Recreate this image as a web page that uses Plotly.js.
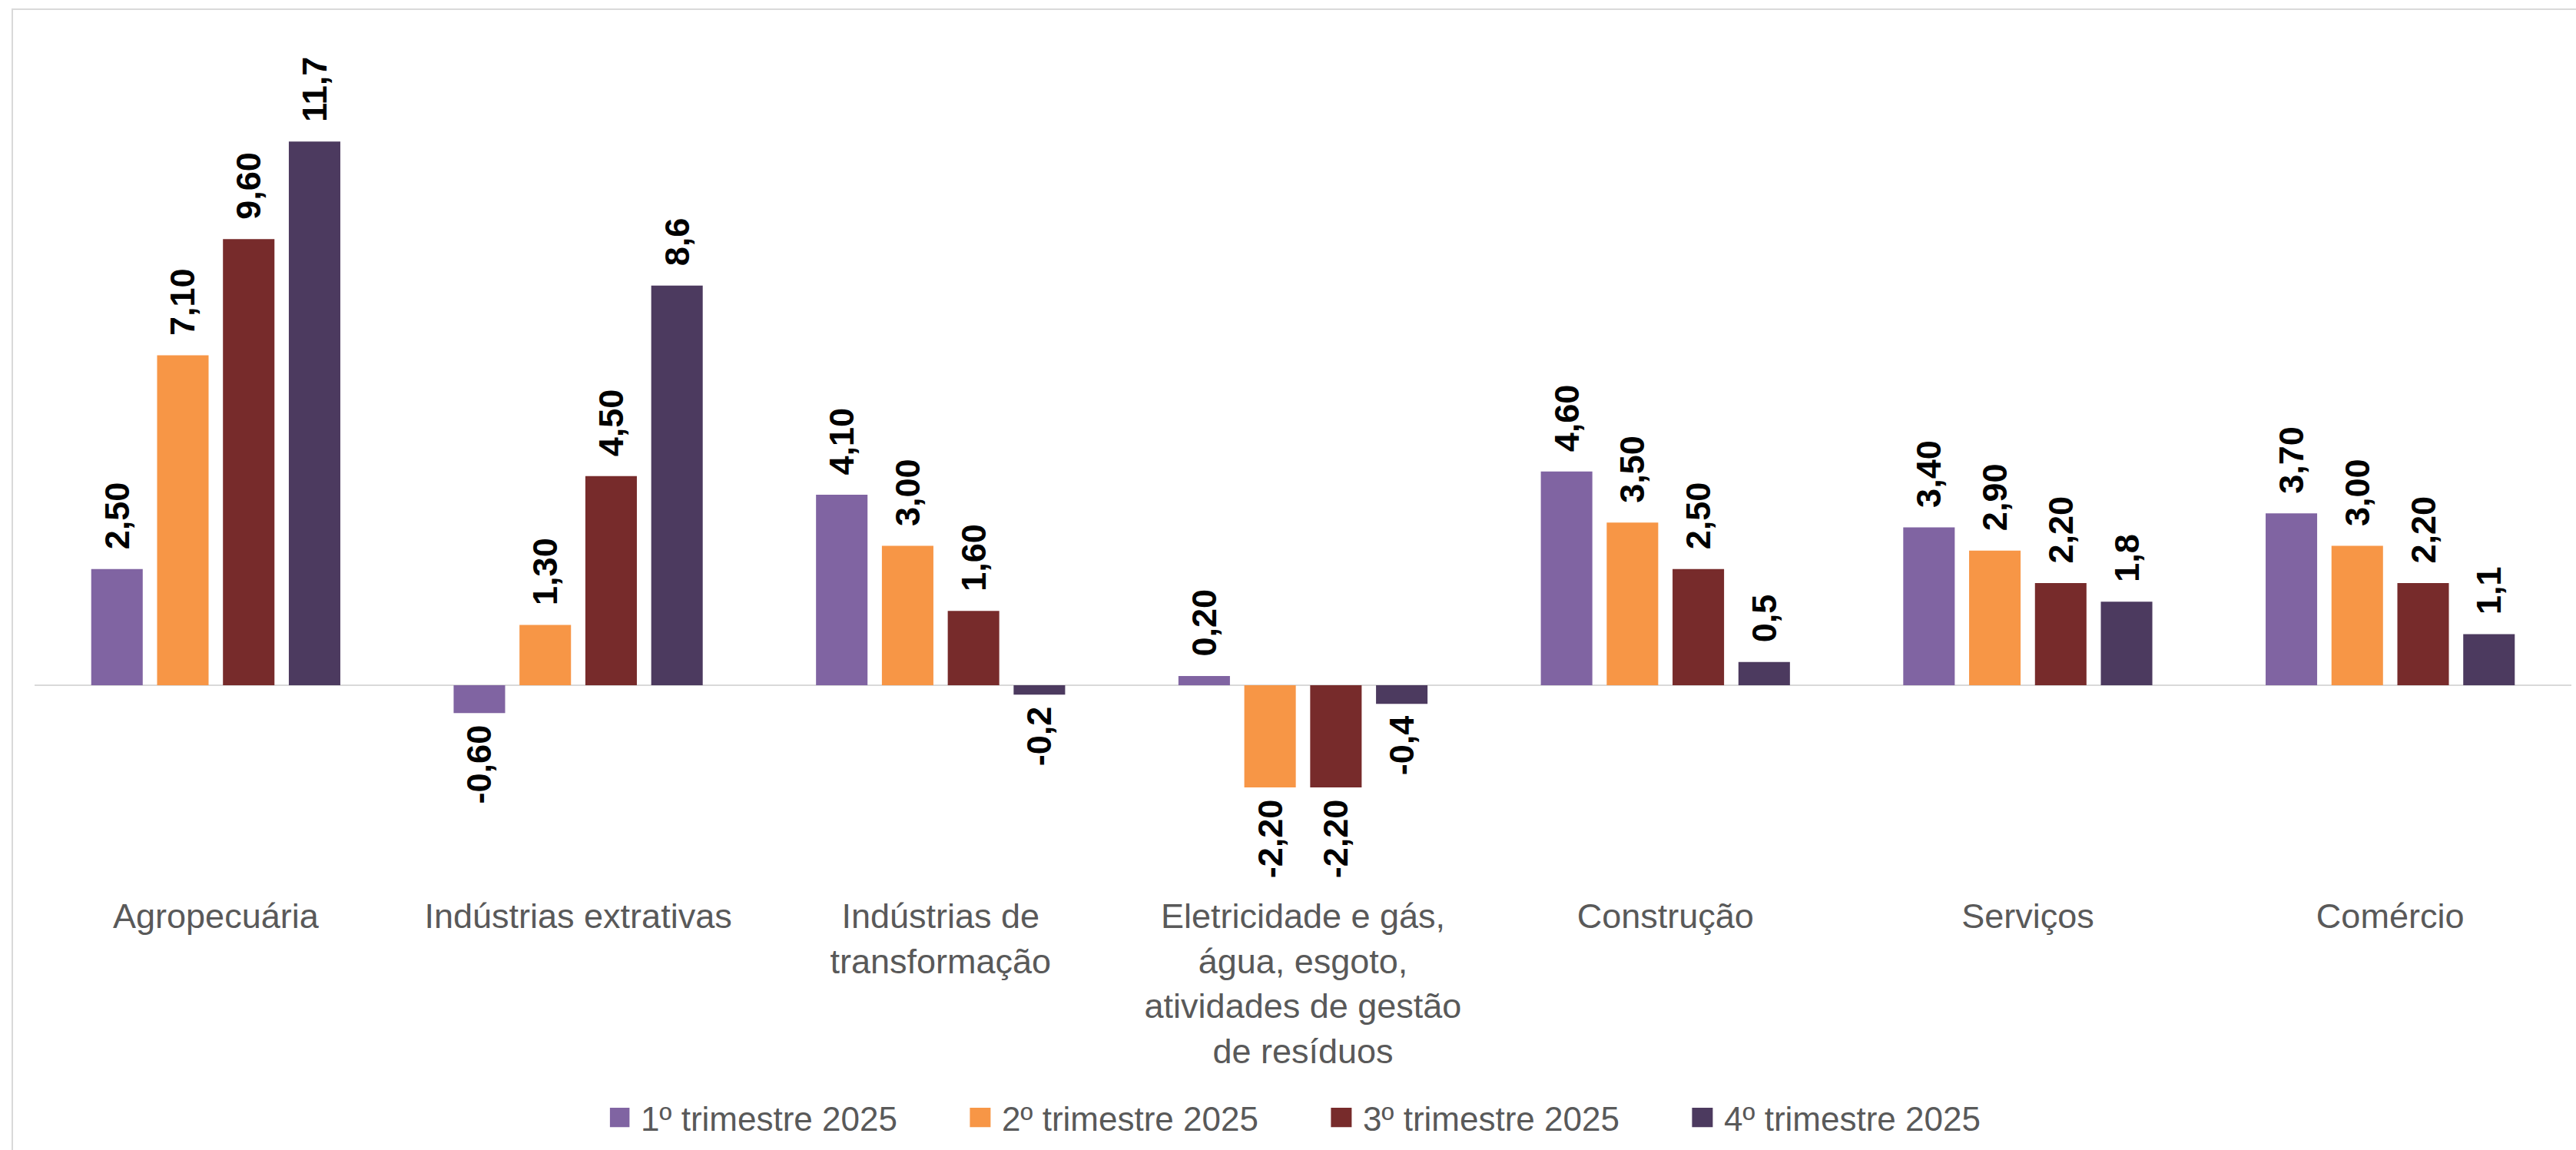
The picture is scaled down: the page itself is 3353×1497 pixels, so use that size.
<!DOCTYPE html>
<html>
<head>
<meta charset="utf-8">
<script src="https://cdn.plot.ly/plotly-3.0.1.min.js"></script>
<style>
  html, body { margin: 0; padding: 0; background: #ffffff; }
  #chart { width: 3353px; height: 1497px; }
</style>
</head>
<body>
<div id="chart"></div>
<script>
// ---- data ----
const categories = [
  "Agropecuária",
  "Indústrias extrativas",
  "Indústrias de<br>transformação",
  "Eletricidade e gás,<br>água, esgoto,<br>atividades de gestão<br>de resíduos",
  "Construção",
  "Serviços",
  "Comércio"
];
const seriesNames = ["1º trimestre 2025", "2º trimestre 2025", "3º trimestre 2025", "4º trimestre 2025"];
const q1 = [2.5, -0.6, 4.1, 0.2, 4.6, 3.4, 3.7];
const q2 = [7.1, 1.3, 3.0, -2.2, 3.5, 2.9, 3.0];
const q3 = [9.6, 4.5, 1.6, -2.2, 2.5, 2.2, 2.2];
const q4 = [11.7, 8.6, -0.2, -0.4, 0.5, 1.8, 1.1];
const decimals = [2, 2, 2, 1];

// ---- styles ----
const colors = ["#8064a2", "#f79646", "#772b2b", "#4c3a5f"];
const labelFont = "Liberation Sans, Arial, sans-serif";

const allSeries = [q1, q2, q3, q4];
const traces = allSeries.map((vals, i) => ({
  type: "bar",
  name: seriesNames[i],
  x: categories,
  y: vals,
  marker: { color: colors[i], line: { width: 0 } },
  texttemplate: vals.map(v => v >= 0
    ? "\u2002%{y:." + decimals[i] + "f}"
    : "%{y:." + decimals[i] + "f}\u00a0"),
  textposition: "outside",
  textangle: -90,
  constraintext: "none",
  cliponaxis: false,
  textfont: { family: labelFont, size: 45, color: "#000000", weight: "bold" },
  hoverinfo: "name+y"
}));

const layout = {
  width: 3353,
  height: 1497,
  separators: ",.",
  paper_bgcolor: "#ffffff",
  plot_bgcolor: "#ffffff",
  margin: { l: 45, r: 6, t: 142, b: 363, pad: 0 },
  barmode: "group",
  bargap: 0.273,
  bargroupgap: 0.218,
  showlegend: true,
  legend: {
    orientation: "h",
    x: 0.2268,
    xanchor: "left",
    y: -0.3236,
    yanchor: "middle",
    entrywidth: 425,
    entrywidthmode: "pixels",
    font: { family: labelFont, size: 44, color: "#595959" },
    bgcolor: "rgba(0,0,0,0)",
    borderwidth: 0
  },
  xaxis: {
    type: "category",
    showgrid: false,
    showline: false,
    zeroline: false,
    ticks: "",
    ticklabelstandoff: 28,
    tickfont: { family: labelFont, size: 45, color: "#595959" },
    fixedrange: true
  },
  yaxis: {
    range: [-4, 12.4],
    showgrid: false,
    showticklabels: false,
    showline: false,
    ticks: "",
    zeroline: true,
    zerolinecolor: "#d9d9d9",
    zerolinewidth: 2,
    fixedrange: true
  },
  shapes: [{
    type: "rect",
    xref: "paper", yref: "paper",
    x0: -0.00878, x1: 1.2,
    y0: -0.5, y1: 1.131,
    line: { color: "#d9d9d9", width: 2 },
    fillcolor: "rgba(0,0,0,0)",
    layer: "below"
  }]
};

Plotly.newPlot("chart", traces, layout, { displayModeBar: false, staticPlot: true }).then(gd => {
  gd.querySelectorAll(".legend .legendpoints path").forEach(p => {
    p.setAttribute("transform", "translate(12,0) scale(2.25,2.1)");
  });
});
</script>
</body>
</html>
